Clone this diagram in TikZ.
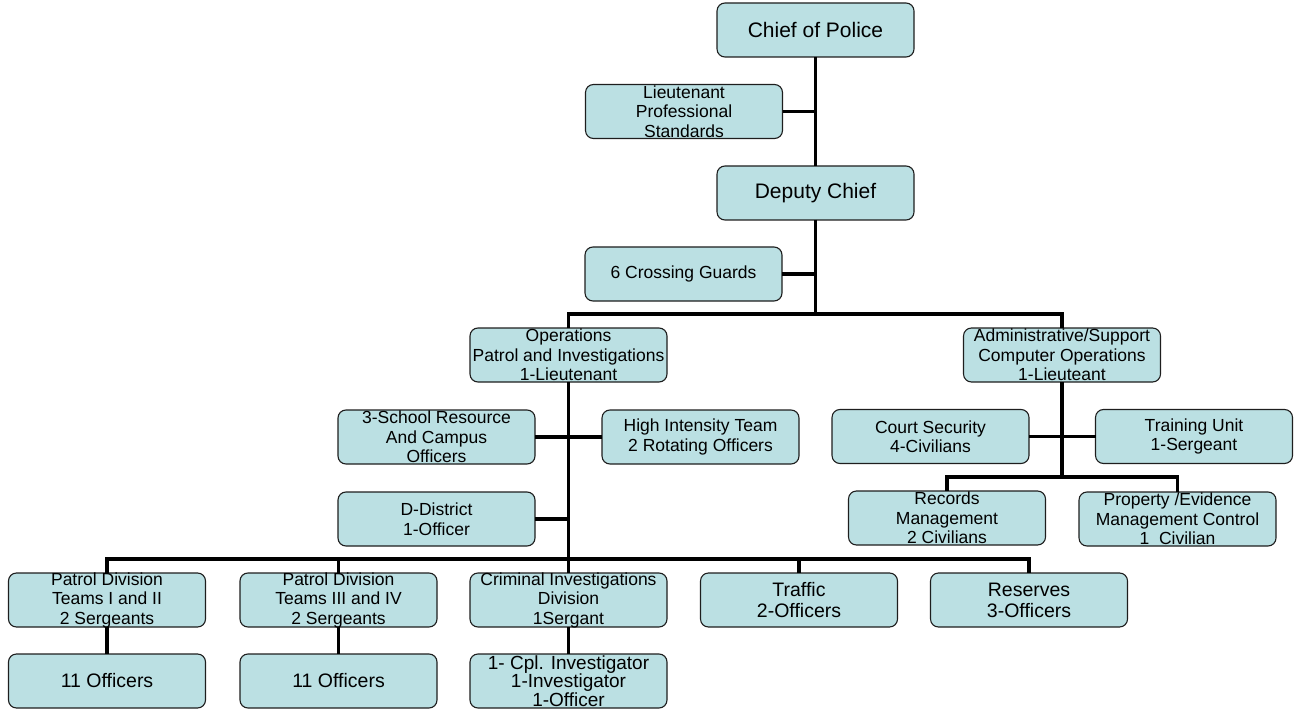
\documentclass[tikz,border=0pt]{standalone}
\usepackage{fontspec}
\setmainfont{Liberation Sans}
\definecolor{boxfill}{RGB}{187,224,227}
\definecolor{boxline}{RGB}{30,30,30}
\begin{document}
\begin{tikzpicture}[x=1pt,y=-1pt,
  box/.style={draw=boxline, line width=1.1pt, fill=boxfill, rounded corners=8pt,
    minimum width=197pt, minimum height=54pt, inner sep=0pt, outer sep=0pt},
  lbl/.style={align=center, inner sep=0pt, text=black, font=\fontsize{17.5}{19.5}\selectfont},
  big/.style={font=\fontsize{21}{23}\selectfont},
  mid/.style={font=\fontsize{19.5}{21}\selectfont},
  cpls/.style={font=\fontsize{19}{18.5}\selectfont},
  ln/.style={line width=3.8pt, draw=black},
  sl/.style={line width=3.2pt, draw=black}]
\useasboundingbox (0,0) rectangle (1300,711);

% top
\node[box, label={[lbl,big]center:Chief of Police}] (chief) at (815.5,30) {};
\node[box, label={[lbl]center:{Lieutenant\\Professional\\Standards}}] (lps) at (684,111.5) {};
\node[box, label={[lbl,big]center:Deputy Chief}] (deputy) at (815.5,193) {};
\node[box, label={[lbl]center:6 Crossing Guards}] (cg) at (683.5,274) {};

% second level
\node[box, label={[lbl]center:{Operations\\Patrol and Investigations\\1-Lieutenant}}] (ops) at (568.5,355) {};
\node[box, label={[lbl]center:{Administrative/Support\\Computer Operations\\1-Lieuteant}}] (admin) at (1062,355) {};

% operations side units
\node[box, label={[lbl]center:{3-School Resource\\And Campus\\Officers}}] (school) at (436.5,437) {};
\node[box, label={[lbl]center:{High Intensity Team\\2 Rotating Officers}}] (hit) at (700.5,437) {};
\node[box, label={[lbl]center:{D-District\\1-Officer}}] (dd) at (436.5,519) {};

% admin units
\node[box, label={[lbl]center:{Court Security\\4-Civilians}}] (court) at (930.5,436.5) {};
\node[box, label={[lbl]center:{Training Unit\\1-Sergeant}}] (train) at (1194,436.5) {};
\node[box, label={[lbl]center:{Records\\Management\\2 Civilians}}] (records) at (947,518) {};
\node[box, label={[lbl]center:{Property /Evidence\\Management Control\\1\ \ Civilian}}] (prop) at (1177.5,519) {};

% bottom row
\node[box, label={[lbl]center:{Patrol Division\\Teams I and II\\2 Sergeants}}] (pat1) at (107,600) {};
\node[box, label={[lbl]center:{Patrol Division\\Teams III and IV\\2 Sergeants}}] (pat3) at (338.5,600) {};
\node[box, label={[lbl]center:{Criminal Investigations\\Division\\1Sergant}}] (cid) at (568.5,600) {};
\node[box, label={[lbl,mid]center:{Traffic\\2-Officers}}] (traffic) at (799,600) {};
\node[box, label={[lbl,mid]center:{Reserves\\3-Officers}}] (reserves) at (1029,600) {};

\node[box, label={[lbl,mid]center:11 Officers}] (off1) at (107,681) {};
\node[box, label={[lbl,mid]center:11 Officers}] (off2) at (338.5,681) {};
\node[box, label={[lbl,cpls]center:{1- Cpl. Investigator\\1-Investigator\\1-Officer}}] (cpl) at (568.5,681) {};

% bus coordinates
\coordinate (b1) at (815.5,314);
\coordinate (b2) at (568.5,559);
\coordinate (b3) at (1062,477);

% connectors
\draw[ln] (chief.south) -- (deputy.north);
\draw[sl] (lps.east) -- (lps.east -| chief.south);
\draw[ln] (deputy.south) -- (b1);
\draw[sl] (cg.east) -- (cg.east -| deputy.south);
\draw[ln] (ops.north) |- (b1) -| (admin.north);

\draw[ln] (ops.south) -- (cid.north);
\draw[sl] (school.east) -- (hit.west);
\draw[sl] (dd.east) -- (dd.east -| ops.south);

\draw[ln] (pat1.north) |- (b2) -| (reserves.north);
\draw[ln] (pat3.north) -- (pat3.north |- b2);
\draw[ln] (traffic.north) -- (traffic.north |- b2);

\draw[ln] (pat1.south) -- (off1.north);
\draw[ln] (pat3.south) -- (off2.north);
\draw[ln] (cid.south) -- (cpl.north);

\draw[ln] (admin.south) -- (b3);
\draw[sl] (court.east) -- (train.west);
\draw[ln] (records.north) |- (b3) -| (prop.north);
\end{tikzpicture}
\end{document}
